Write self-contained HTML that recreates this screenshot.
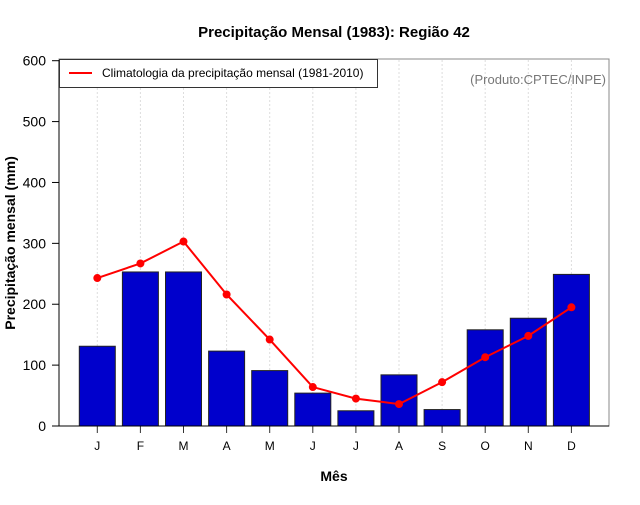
<!DOCTYPE html>
<html><head><meta charset="utf-8"><style>
body{margin:0;background:#fff;font-family:"Liberation Sans",sans-serif}
svg text{font-family:"Liberation Sans",sans-serif}
</style></head><body>
<svg id="c" width="640" height="500" xmlns="http://www.w3.org/2000/svg">
<rect width="640" height="500" fill="#fff"/>
<text x="334" y="37" text-anchor="middle" font-size="15" font-weight="bold">Precipitação Mensal (1983): Região 42</text>
<text x="334" y="481" text-anchor="middle" font-size="14" font-weight="bold">Mês</text>
<text transform="translate(15,243) rotate(-90)" text-anchor="middle" font-size="14" font-weight="bold">Precipitação mensal (mm)</text>
<rect x="59" y="59" width="550" height="367" fill="none" stroke="#888" stroke-width="1"/>
<g id="grid"></g><g id="bars"></g><g id="line"></g><g id="axes"></g>
<g>
<rect x="59.5" y="59.5" width="318" height="28" fill="#fff" stroke="#333"/>
<line x1="69" y1="73" x2="92" y2="73" stroke="red" stroke-width="2"/>
<text x="102" y="77" font-size="12">Climatologia da precipitação mensal (1981-2010)</text>
</g>
<text x="606" y="84" text-anchor="end" font-size="13" fill="#777">(Produto:CPTEC/INPE)</text>
</svg>
<script>
const months=["J","F","M","A","M","J","J","A","S","O","N","D"];
const observed=[131,253,253,123,91,54,25,84,27,158,177,249];
const climatology=[243,267,303,216,142,64,45,36,72,113,148,195];
const yTicks=[0,100,200,300,400,500,600];
const NS="http://www.w3.org/2000/svg";
const x=i=>97.3+i*43.1;
const y=v=>426-v*(365.3/600);
function mk(t,a,p){const e=document.createElementNS(NS,t);for(const k in a)e.setAttribute(k,a[k]);p.appendChild(e);return e;}
const G=document.getElementById('grid'),B=document.getElementById('bars'),L=document.getElementById('line'),A=document.getElementById('axes');
months.forEach((m,i)=>{
 const g=mk('line',{x1:x(i),x2:x(i),y1:60,y2:426,stroke:'#ddd','stroke-dasharray':'2,2'},G);
 
 
 const b=mk('rect',{x:x(i)-18,y:y(observed[i]),width:36,height:426-y(observed[i]),fill:'#0000cc',stroke:'#222','stroke-width':1},B);
 
 
 const t=mk('line',{x1:x(i),x2:x(i),y1:426,y2:433,stroke:'#333'},A);
 
 
 const tl=mk('text',{x:x(i),y:450,'text-anchor':'middle','font-size':12},A);
 tl.textContent=m;
 
 
});
const pl=mk('polyline',{points:climatology.map((v,i)=>x(i)+','+y(v)).join(' '),fill:'none',stroke:'red','stroke-width':2},L);


climatology.forEach((v,i)=>{
 const c=mk('circle',{cx:x(i),cy:y(v),r:4,fill:'red'},L);
 
 
});
const ax=mk('path',{d:'M59,60 V426 H609',fill:'none',stroke:'#000','stroke-width':1},A);


yTicks.forEach(v=>{
 const t=mk('line',{x1:52,x2:59,y1:y(v),y2:y(v),stroke:'#000'},A);
 
 
 const tl=mk('text',{x:46,y:y(v)+5,'text-anchor':'end','font-size':14},A);
 tl.textContent=v;
 
 
});
</script>
</body></html>
